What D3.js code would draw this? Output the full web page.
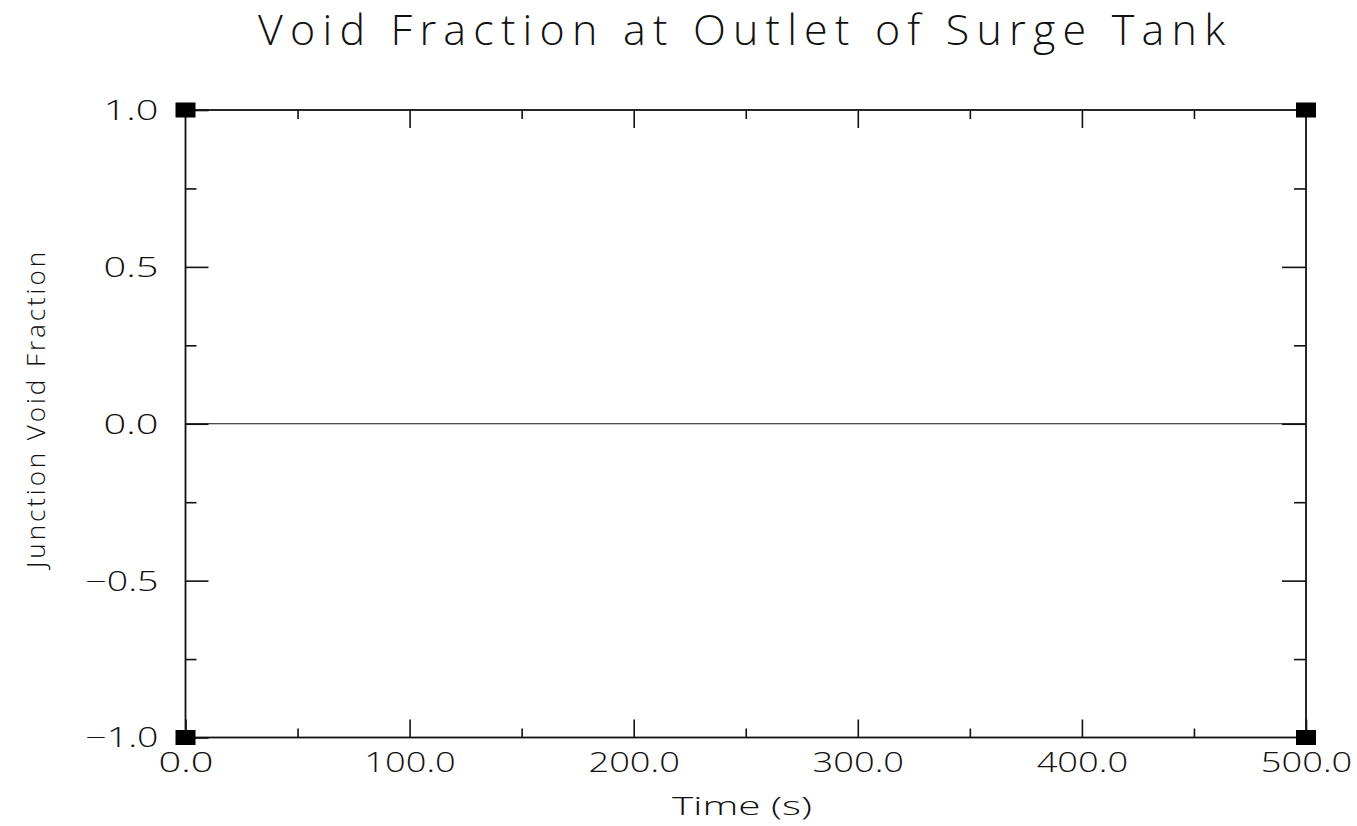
<!DOCTYPE html>
<html><head><meta charset="utf-8">
<script src="https://cdn.jsdelivr.net/npm/d3@7"></script>
<style>
html,body{margin:0;padding:0;background:#fff;}
text{font-family:"Open Sans","DejaVu Sans",sans-serif;font-weight:300;fill:#111;}
</style></head>
<body><svg id="chart" width="1357" height="826"></svg>
<script>
const titleText = "Void Fraction at Outlet of Surge Tank";
const xLabel = "Time (s)";
const yLabel = "Junction Void Fraction";
const xDomain = [0, 500];
const yDomain = [-1, 1];
const xMajorTicks = [0, 100, 200, 300, 400, 500];
const xMinorTicks = [50, 150, 250, 350, 450];
const yMajorTicks = [-1, -0.5, 0, 0.5, 1];
const yMinorTicks = [-0.75, -0.25, 0.25, 0.75];
const timeValues = [0, 500];
const voidValues = [0, 0];
const cornerX = [0, 500, 0, 500];
const cornerY = [1, 1, -1, -1];

const svg = d3.select("#chart");
const L = 185.5, R = 1306, T = 110, B = 737.5;
const x = d3.scaleLinear().domain(xDomain).range([L, R]);
const y = d3.scaleLinear().domain(yDomain).range([B, T]);

function styleAxis(g){
  g.select(".domain").remove();
  g.selectAll(".tick line").attr("stroke","#111").attr("stroke-width",1.6);
}
// bottom axis (ticks pointing up)
svg.append("g").attr("transform",`translate(0,${B})`)
  .call(d3.axisBottom(x).tickValues(xMinorTicks).tickSize(-9).tickFormat(""))
  .call(styleAxis);
const xb = svg.append("g").attr("transform",`translate(0,${B})`)
  .call(d3.axisBottom(x).tickValues(xMajorTicks).tickSize(-18).tickPadding(0).tickFormat(d3.format(".1f")))
  .call(styleAxis);
xb.selectAll(".tick text").attr("y",34).attr("dy",0).attr("font-size",27)
  .attr("textLength", function(){ return this.textContent.length*18.3; }).attr("lengthAdjust","spacingAndGlyphs");
// top axis (ticks pointing down)
svg.append("g").attr("transform",`translate(0,${T})`)
  .call(d3.axisTop(x).tickValues(xMinorTicks).tickSize(-9).tickFormat(""))
  .call(styleAxis);
svg.append("g").attr("transform",`translate(0,${T})`)
  .call(d3.axisTop(x).tickValues(xMajorTicks.slice(1,-1)).tickSize(-18).tickFormat(""))
  .call(styleAxis);
// left axis
svg.append("g").attr("transform",`translate(${L},0)`)
  .call(d3.axisLeft(y).tickValues(yMinorTicks).tickSize(-11).tickFormat(""))
  .call(styleAxis);
const yl = svg.append("g").attr("transform",`translate(${L},0)`)
  .call(d3.axisLeft(y).tickValues(yMajorTicks).tickSize(-23).tickPadding(0).tickFormat(d3.format(".1f")))
  .call(styleAxis);
yl.selectAll(".tick text").attr("x",-27).attr("dy","0.35em").attr("font-size",27)
  .attr("textLength", function(){ return this.textContent.length*18.3; }).attr("lengthAdjust","spacingAndGlyphs");
// right axis
svg.append("g").attr("transform",`translate(${R},0)`)
  .call(d3.axisRight(y).tickValues(yMinorTicks).tickSize(-12).tickFormat(""))
  .call(styleAxis);
svg.append("g").attr("transform",`translate(${R},0)`)
  .call(d3.axisRight(y).tickValues(yMajorTicks.slice(1,-1)).tickSize(-24).tickFormat(""))
  .call(styleAxis);

// frame
svg.append("rect").attr("x",L).attr("y",T).attr("width",R-L).attr("height",B-T)
  .attr("fill","none").attr("stroke","#111").attr("stroke-width",1.8);

// data line
svg.append("path")
  .datum(timeValues.map((t,i)=>[t,voidValues[i]]))
  .attr("fill","none").attr("stroke","#111").attr("stroke-width",1.2)
  .attr("d", d3.line().x(d=>x(d[0])).y(d=>y(d[1])));

// corner markers
svg.selectAll("rect.corner").data(cornerX.map((c,i)=>[c,cornerY[i]])).enter()
  .append("rect").attr("class","corner")
  .attr("x",d=>x(d[0])-10).attr("y",d=>y(d[1])-7.5)
  .attr("width",20).attr("height",15).attr("fill","#000");

// title
svg.append("text").attr("x",741.5).attr("y",45).attr("text-anchor","middle")
  .attr("font-size",43).attr("textLength",967).attr("lengthAdjust","spacing").text(titleText);
// x label
svg.append("text").attr("x",742).attr("y",815).attr("text-anchor","middle")
  .attr("font-size",26).attr("textLength",140).attr("lengthAdjust","spacingAndGlyphs").text(xLabel);
// y label
svg.append("text").attr("transform","translate(45,410) rotate(-90)").attr("text-anchor","middle")
  .attr("font-size",26).attr("textLength",316).attr("lengthAdjust","spacing").text(yLabel);
</script></body></html>
